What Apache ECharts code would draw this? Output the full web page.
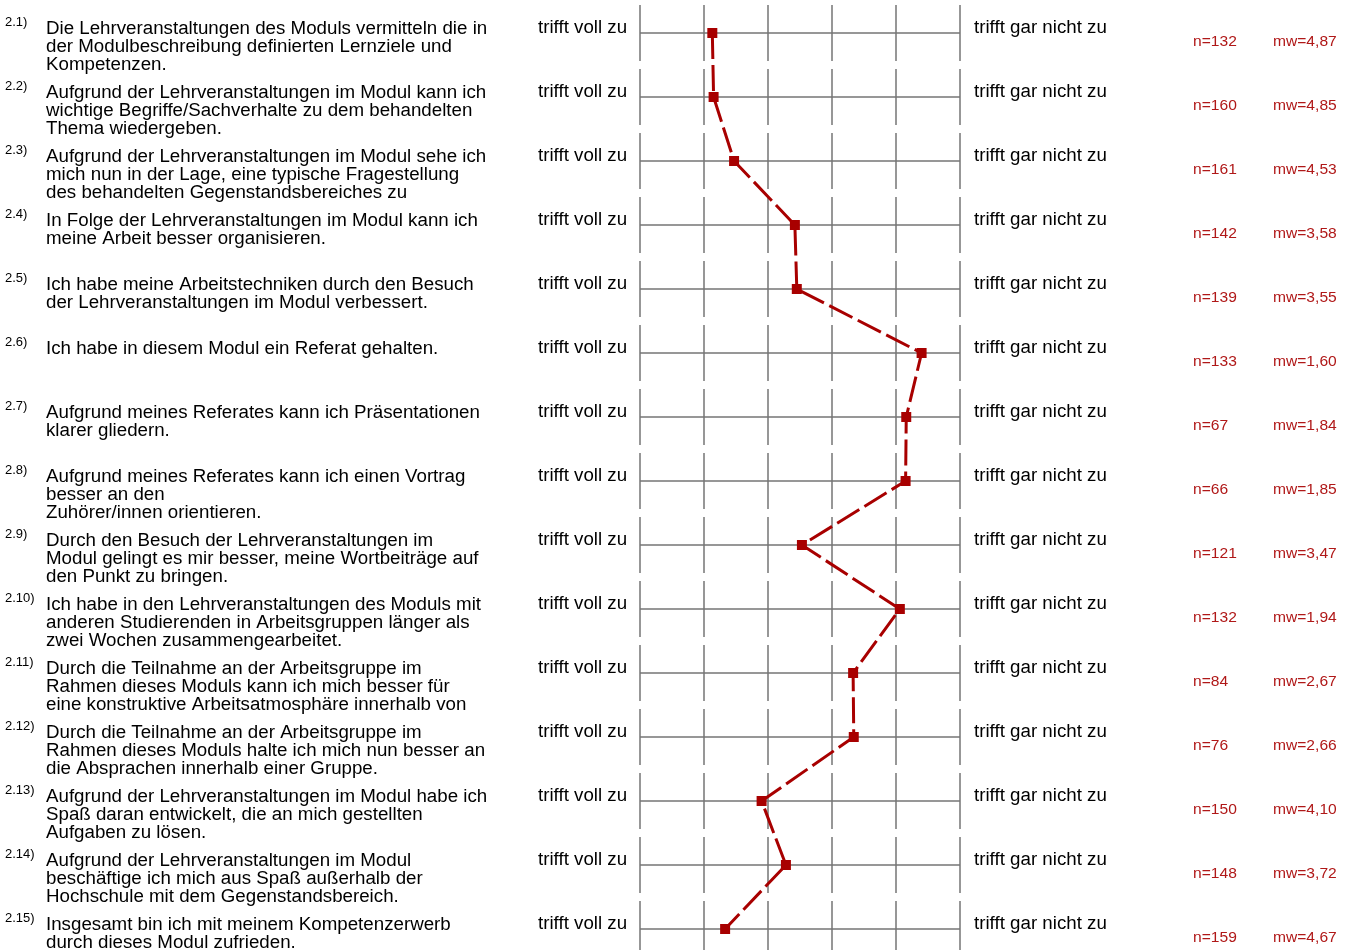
<!DOCTYPE html>
<html><head><meta charset="utf-8">
<script src="https://cdn.jsdelivr.net/npm/echarts@6/dist/echarts.min.js"></script>
<style>html,body{margin:0;padding:0;background:#fff}#c{width:1348px;height:950px}</style>
</head><body><div id="c"></div>
<script>
const itemNumbers = ["2.1)","2.2)","2.3)","2.4)","2.5)","2.6)","2.7)","2.8)","2.9)","2.10)","2.11)","2.12)","2.13)","2.14)","2.15)"];
const questions = [
"Die Lehrveranstaltungen des Moduls vermitteln die in\nder Modulbeschreibung definierten Lernziele und\nKompetenzen.",
"Aufgrund der Lehrveranstaltungen im Modul kann ich\nwichtige Begriffe/Sachverhalte zu dem behandelten\nThema wiedergeben.",
"Aufgrund der Lehrveranstaltungen im Modul sehe ich\nmich nun in der Lage, eine typische Fragestellung\ndes behandelten Gegenstandsbereiches zu",
"In Folge der Lehrveranstaltungen im Modul kann ich\nmeine Arbeit besser organisieren.",
"Ich habe meine Arbeitstechniken durch den Besuch\nder Lehrveranstaltungen im Modul verbessert.",
"Ich habe in diesem Modul ein Referat gehalten.",
"Aufgrund meines Referates kann ich Präsentationen\nklarer gliedern.",
"Aufgrund meines Referates kann ich einen Vortrag\nbesser an den\nZuhörer/innen orientieren.",
"Durch den Besuch der Lehrveranstaltungen im\nModul gelingt es mir besser, meine Wortbeiträge auf\nden Punkt zu bringen.",
"Ich habe in den Lehrveranstaltungen des Moduls mit\nanderen Studierenden in Arbeitsgruppen länger als\nzwei Wochen zusammengearbeitet.",
"Durch die Teilnahme an der Arbeitsgruppe im\nRahmen dieses Moduls kann ich mich besser für\neine konstruktive Arbeitsatmosphäre innerhalb von",
"Durch die Teilnahme an der Arbeitsgruppe im\nRahmen dieses Moduls halte ich mich nun besser an\ndie Absprachen innerhalb einer Gruppe.",
"Aufgrund der Lehrveranstaltungen im Modul habe ich\nSpaß daran entwickelt, die an mich gestellten\nAufgaben zu lösen.",
"Aufgrund der Lehrveranstaltungen im Modul\nbeschäftige ich mich aus Spaß außerhalb der\nHochschule mit dem Gegenstandsbereich.",
"Insgesamt bin ich mit meinem Kompetenzerwerb\ndurch dieses Modul zufrieden."
];
const nValues = [132,160,161,142,139,133,67,66,121,132,84,76,150,148,159];
const mwValues = [4.87,4.85,4.53,3.58,3.55,1.60,1.84,1.85,3.47,1.94,2.67,2.66,4.10,3.72,4.67];
const leftPole = "trifft voll zu";
const rightPole = "trifft gar nicht zu";
const scaleTicks = [1,2,3,4,5,6];

const FONT = "'Liberation Sans', Arial, sans-serif";
const GRAY = '#747474';
const RED = '#a80000';
const TXTRED = '#b01818';
const ROW_PX = 64;
const GRID_TOP = 1;
const GRID_H = 949;

const chart = echarts.init(document.getElementById('c'), null, {renderer:'canvas'});

function renderRow(params, api) {
  const i = api.value(1);
  const cy = api.coord([scaleTicks[0], i])[1];
  const band = Math.abs(api.size([0, 1])[1]);
  const half = band * 0.4375;
  const xl = api.coord([scaleTicks[scaleTicks.length-1], i])[0];
  const xr = api.coord([scaleTicks[0], i])[0];
  const children = [];
  children.push({type:'line', shape:{x1:xl, y1:cy, x2:xr, y2:cy}, style:{stroke:GRAY, lineWidth:1.5}});
  scaleTicks.forEach(t => {
    const x = api.coord([t, i])[0];
    children.push({type:'line', shape:{x1:x, y1:cy-half, x2:x, y2:cy+half}, style:{stroke:GRAY, lineWidth:1.5}});
  });
  const mk = (text, x, y, size, color, va) => ({type:'text', x:x, y:y, scaleX:1.04, style:{text:text, fill:color, fontFamily:FONT, fontSize:size, lineHeight:18, verticalAlign:va, align:'left'}});
  children.push(mk(itemNumbers[i], 5, cy-10.5, 12.5, '#000', 'middle'));
  children.push(mk(questions[i], 46, cy-12.5, 18, '#000', 'top'));
  children.push(mk(leftPole, 538, cy-4.5, 18, '#000', 'middle'));
  children.push(mk(rightPole, 974, cy-4.5, 18, '#000', 'middle'));
  children.push(mk('n=' + nValues[i], 1193, cy+8.5, 15, TXTRED, 'middle'));
  children.push(mk('mw=' + mwValues[i].toFixed(2).replace('.', ','), 1273, cy+8.5, 15, TXTRED, 'middle'));
  return {type:'group', children:children};
}

const option = {
  animation: false,
  grid: {left: 640, top: GRID_TOP, width: 320, height: GRID_H},
  xAxis: {type:'value', min:1, max:6, interval:1, inverse:true, show:false},
  yAxis: {type:'value', inverse:true, show:false, min:-0.5, max: GRID_H/ROW_PX - 0.5, splitLine:{show:false}},
  series: [
    {
      type:'custom', z:1, silent:true, clip:false,
      renderItem: renderRow,
      data: itemNumbers.map((_, i) => [scaleTicks[0], i])
    },
    {
      type:'line', z:3, silent:true, clip:false,
      data: mwValues.map((v, i) => [v, i]),
      symbol:'rect', symbolSize:10,
      itemStyle:{color:RED},
      lineStyle:{color:RED, width:3, type:[26,6]}
    }
  ]
};
chart.setOption(option);
</script></body></html>
